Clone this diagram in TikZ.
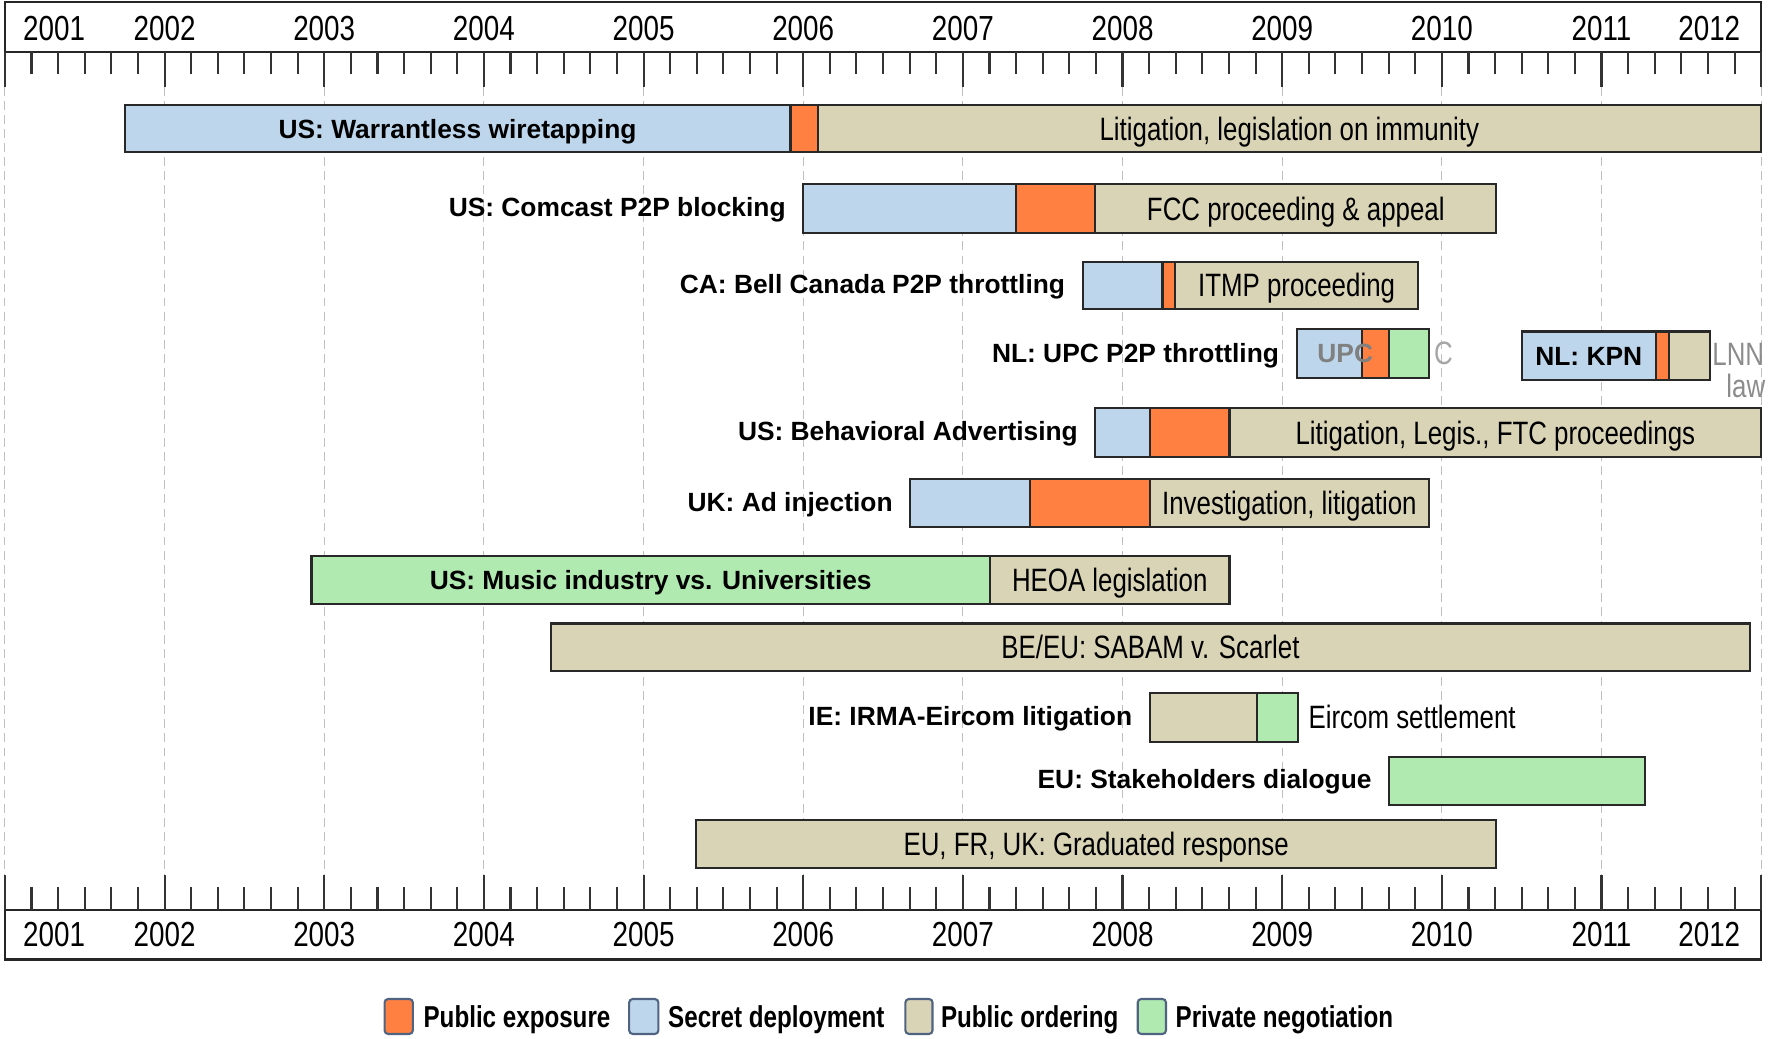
\documentclass[tikz,border=0pt]{standalone}
\usepackage{fontspec}
\setmainfont{Liberation Sans}
\newfontfamily\narrowfont[FakeStretch=0.8]{Liberation Sans}
\definecolor{secretblue}{RGB}{190,214,236}
\definecolor{expoorange}{RGB}{255,128,64}
\definecolor{ordertan}{RGB}{217,212,182}
\definecolor{privgreen}{RGB}{176,234,176}
\definecolor{barline}{RGB}{40,40,40}
\definecolor{swatchline}{RGB}{80,100,130}

\begin{document}
\begin{tikzpicture}[x=1.5967cm,y=-0.011276cm,
   yearlab/.style={font=\narrowfont\fontsize{9.9}{11}\selectfont,inner sep=0pt,text height=7.1pt,text depth=0pt},
   bartxt/.style={font=\narrowfont\fontsize{9.2}{11}\selectfont,inner sep=0pt,text height=6.6pt,text depth=0pt},
   boldtxt/.style={font=\fontsize{7.5}{9}\selectfont\bfseries,inner sep=0pt,text height=5.4pt,text depth=0pt},
   lab/.style={boldtxt,anchor=east,xshift=-4.8pt},
   legtxt/.style={font=\narrowfont\fontsize{8.6}{10}\selectfont\bfseries,anchor=west,inner sep=0pt,text height=6.2pt,text depth=0pt},
   seg/.style={draw=barline,line width=0.6pt},
   secret/.style={seg,fill=secretblue},
   expo/.style={seg,fill=expoorange},
   order/.style={seg,fill=ordertan},
   priv/.style={seg,fill=privgreen},
   swatch/.style={draw=swatchline,line width=0.6pt,rounded corners=1pt},
   tick/.style={draw=black!80,line width=0.6pt},
   grid/.style={draw=black!25,line width=0.3pt,dash pattern=on 2.5pt off 1.5pt},
   axisbox/.style={draw=black!85,line width=0.7pt}]
\useasboundingbox (-0.0307,0) rectangle (11.0427,921);

% time axis, top and bottom
\draw[axisbox] (0,2) rectangle (11,46);
\draw[axisbox] (0,807) rectangle (11,851);
\foreach \i in {0,...,66} {
   \draw[tick] (\i/6,46) -- (\i/6,66);
   \draw[tick] (\i/6,807) -- (\i/6,787);
}
\foreach \y in {0,...,11} {
   \draw[tick] (\y,46) -- (\y,77);
   \draw[tick] (\y,807) -- (\y,776);
   \draw[grid] (\y,77) -- (\y,776);
}
\foreach \y [evaluate=\y as \yr using int(2001+\y)] in {1,...,10} {
   \node[yearlab] (top\y) at (\y,24.5) {\yr};
   \node[yearlab] (bot\y) at (\y,828.5) {\yr};
}
\node[yearlab,anchor=west] (top0) at (0.11,24.5) {2001};
\node[yearlab,anchor=west] (bot0) at (0.11,828.5) {2001};
\node[yearlab,anchor=east] (top11) at (10.873,24.5) {2012};
\node[yearlab,anchor=east] (bot11) at (10.873,828.5) {2012};

% US: warrantless wiretapping
\draw[secret] (0.75,93) rectangle node[boldtxt] (wiretap) {US: Warrantless wiretapping} (4.92,135);
\draw[expo] (4.92,93) rectangle (5.09,135);
\draw[order] (5.09,93) rectangle node[bartxt] (wiretapord) {Litigation, legislation on immunity} (11,135);

% US: Comcast
\node[lab] (comcast) at (5.00,184) {US: Comcast P2P blocking};
\draw[secret] (5.00,163) rectangle (6.33,207);
\draw[expo] (6.33,163) rectangle (6.83,207);
\draw[order] (6.83,163) rectangle node[bartxt] (comcastord) {FCC proceeding \& appeal} (9.34,207);

% CA: Bell Canada
\node[lab] (bell) at (6.75,252) {CA: Bell Canada P2P throttling};
\draw[secret] (6.75,232) rectangle (7.25,274);
\draw[expo] (7.25,232) rectangle (7.33,274);
\draw[order] (7.33,232) rectangle node[bartxt] (bellord) {ITMP proceeding} (8.85,274);

% NL: UPC and KPN
\node[lab] (upc) at (8.09,313) {NL: UPC P2P throttling};
\draw[secret] (8.09,292) rectangle (8.50,335);
\draw[expo] (8.50,292) rectangle (8.67,335);
\draw[priv] (8.67,292) rectangle (8.92,335);
\node[boldtxt,text=black!50] (upcgray) at (8.395,313) {UPC};
\node[bartxt,text=black!35] (upcc) at (9.01,313) {C};
\draw[secret] (9.50,294) rectangle node[boldtxt] (kpn) {NL: KPN} (10.34,337);
\draw[expo] (10.34,294) rectangle (10.42,337);
\draw[order] (10.42,294) rectangle (10.68,337);
\node[bartxt,text=black!45,anchor=west] (lnn) at (10.69,314) {LNN};
\node[bartxt,text=black!45,anchor=east] (law) at (11.03,342) {law};

% US: behavioral advertising
\node[lab] (behav) at (6.83,382) {US: Behavioral Advertising};
\draw[secret] (6.83,362) rectangle (7.17,405);
\draw[expo] (7.17,362) rectangle (7.67,405);
\draw[order] (7.67,362) rectangle node[bartxt] (behavord) {Litigation, Legis., FTC proceedings} (11,405);

% UK: ad injection
\node[lab] (adinj) at (5.67,445) {UK: Ad injection};
\draw[secret] (5.67,425) rectangle (6.42,467);
\draw[expo] (6.42,425) rectangle (7.17,467);
\draw[order] (7.17,425) rectangle node[bartxt] (adinjord) {Investigation, litigation} (8.92,467);

% US: music industry
\draw[priv] (1.92,493) rectangle node[boldtxt] (music) {US: Music industry vs. Universities} (6.17,536);
\draw[order] (6.17,493) rectangle node[bartxt] (heoa) {HEOA legislation} (7.67,536);

% BE/EU: SABAM
\draw[order] (3.42,553) rectangle node[bartxt] (sabam) {BE/EU: SABAM v. Scarlet} (10.93,595);

% IE: IRMA-Eircom
\node[lab] (irma) at (7.17,635) {IE: IRMA-Eircom litigation};
\draw[order] (7.17,615) rectangle (7.84,658);
\draw[priv] (7.84,615) rectangle (8.10,658);
\node[bartxt,anchor=west] (eircom) at (8.161,636) {Eircom settlement};

% EU: stakeholders
\node[lab] (stake) at (8.67,691) {EU: Stakeholders dialogue};
\draw[priv] (8.67,671) rectangle (10.27,714);

% graduated response
\draw[order] (4.33,727) rectangle node[bartxt] (gradresp) {EU, FR, UK: Graduated response} (9.34,770);

% legend
\draw[swatch,fill=expoorange] (2.378,886) rectangle (2.555,917);
\node[legtxt] (legexpo) at (2.618,902) {Public exposure};
\draw[swatch,fill=secretblue] (3.910,886) rectangle (4.093,917);
\node[legtxt] (legsecret) at (4.150,902) {Secret deployment};
\draw[swatch,fill=ordertan] (5.640,886) rectangle (5.810,917);
\node[legtxt] (legorder) at (5.859,902) {Public ordering};
\draw[swatch,fill=privgreen] (7.095,886) rectangle (7.272,917);
\node[legtxt] (legpriv) at (7.328,902) {Private negotiation};
\end{tikzpicture}
\end{document}
